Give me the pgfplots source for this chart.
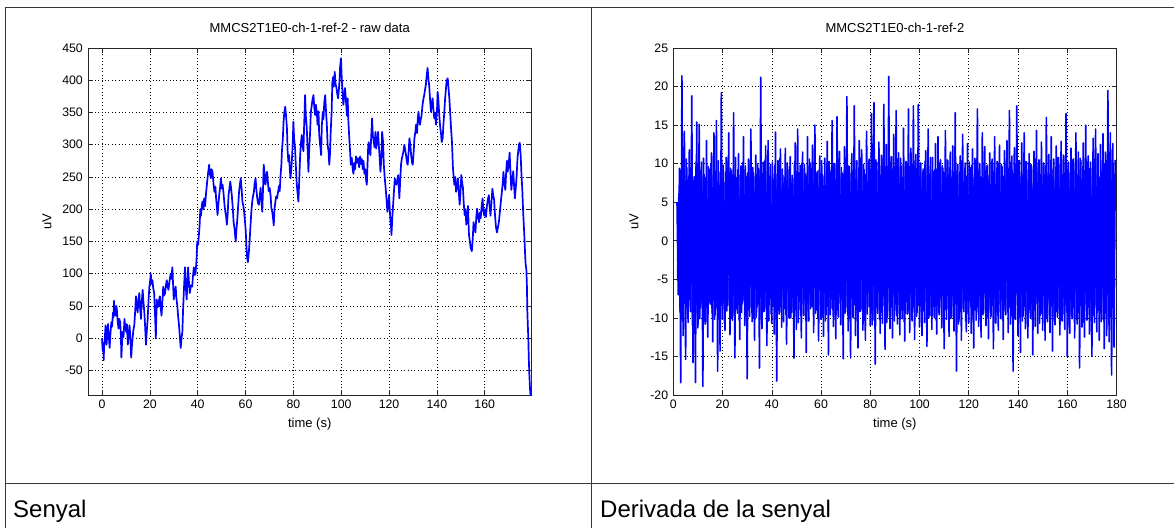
\documentclass[border=0pt]{standalone}
\usepackage{pgfplots}
\pgfplotsset{compat=1.18}
\usepackage{fontspec}
\setmainfont{Liberation Sans}
\definecolor{mblue}{RGB}{0,0,255}
\definecolor{tline}{RGB}{55,55,55}
\pgfplotsset{
  mstyle/.style={
    scale only axis, height=347pt,
    axis line style={black!85, line width=0.7pt},
    tick align=inside, major tick length=5pt,
    tick style={black!85, line width=0.6pt},
    grid=major,
    major grid style={black, line width=0.6pt, dash pattern=on 0.8pt off 2.6pt},
    /pgf/number format/assume math mode=true,
    /pgf/number format/1000 sep={},
    every tick label/.append style={font=\fontsize{12.3}{14}\selectfont},
    xticklabel style={inner sep=0pt, anchor=north, yshift=-5pt},
    yticklabel style={inner sep=0pt, anchor=east, xshift=-5pt},
    title style={at={(0.5,1)}, anchor=base, yshift=9.7pt, inner sep=0pt, font=\fontsize{13}{15}\selectfont},
    label style={font=\fontsize{13}{15}\selectfont},
    xlabel style={at={(axis description cs:0.5,0)}, anchor=base, yshift=-32pt, inner sep=0pt},
  }
}
\begin{document}
\begin{tikzpicture}[x=1pt,y=1pt]
\path[use as bounding box, fill=white] (0pt,0pt) rectangle (1174pt,528pt);
\draw[tline, line width=1pt] (5pt,0pt) -- (5pt,520pt) -- (1174pt,520pt);
\draw[tline, line width=1pt] (591pt,0pt) -- (591pt,520pt);
\draw[tline, line width=1pt] (5pt,45pt) -- (1174pt,45pt);
\node[anchor=base west, inner sep=0pt, font=\fontsize{24}{28}\selectfont] at (13pt,11pt) {Senyal};
\node[anchor=base west, inner sep=0pt, font=\fontsize{24}{28}\selectfont] at (600pt,11pt) {Derivada de la senyal};

\begin{axis}[mstyle, at={(88pt,133pt)}, anchor=south west, width=443.4pt,
  xmin=-5.85, xmax=179.5, ymin=-88, ymax=450,
  xtick={0,20,...,160}, ytick={-50,0,...,450},
  title={MMCS2T1E0-ch-1-ref-2 - raw data},
  xlabel={time (s)}, ylabel={uV},
  ylabel style={at={(axis description cs:-0.0925,0.5)}, anchor=center, inner sep=0pt},
]
\addplot[mblue, line width=1.7pt, line join=round] table {
t v
0.0 0
0.3 -20
0.5 -8
0.7 -34
0.9 -12
1.1 -5
1.3 8
1.5 20
1.7 2
1.9 -10
2.2 5
2.5 22
2.8 5
3.2 -15
3.5 5
3.9 25
4.2 18
4.6 40
4.8 32
5.0 58
5.3 42
5.7 35
6.0 50
6.2 45
6.5 28
6.9 15
7.2 30
7.6 25
7.9 5
8.1 -30
8.4 -5
8.7 10
9.0 2
9.4 30
9.7 18
10.1 10
10.4 22
10.8 -10
11.1 5
11.5 20
11.8 5
12.2 -30
12.5 -12
12.8 0
13.1 12
13.5 20
13.8 38
14.2 65
14.5 52
14.9 40
15.2 58
15.6 70
15.9 48
16.3 30
16.6 55
17.0 75
17.3 58
17.7 40
18.0 20
18.4 -10
18.7 10
19.1 30
19.4 55
19.8 80
20.1 88
20.4 100
20.7 84
21.1 90
21.4 78
21.8 70
22.1 45
22.5 0
22.7 30
22.9 60
23.2 48
23.6 50
23.9 60
24.2 65
24.5 48
24.9 35
25.2 55
25.6 80
25.9 66
26.4 70
26.7 82
27.1 90
27.4 80
27.8 75
28.2 88
28.7 100
29.0 92
29.4 110
29.7 85
30.0 60
30.4 72
30.8 80
31.1 62
31.5 50
31.8 35
32.2 20
32.5 5
32.9 -15
33.2 -2
33.6 10
33.9 45
34.3 80
34.5 95
34.7 110
35.0 80
35.4 60
35.7 88
36.0 110
36.3 90
36.7 70
37.2 82
37.7 80
38.0 95
38.4 110
38.7 98
39.1 100
39.5 120
39.8 150
40.2 145
40.5 160
40.8 175
41.1 200
41.4 190
41.7 205
42.0 212
42.4 200
42.7 217
43.1 205
43.5 225
43.9 240
44.3 255
44.8 269
45.1 255
45.5 248
45.8 262
46.2 258
46.6 240
47.0 227
47.4 235
47.7 217
48.0 205
48.3 191
48.7 210
49.0 222
49.4 235
49.7 248
50.1 232
50.4 238
50.8 225
51.2 207
51.6 195
51.9 188
52.2 176
52.5 190
52.9 222
53.2 230
53.6 243
53.9 235
54.3 220
54.7 200
55.0 181
55.4 170
55.9 150
56.2 168
56.6 186
57.0 210
57.3 227
57.7 240
58.0 248
58.4 230
58.7 212
59.1 205
59.4 196
59.8 180
60.1 165
60.4 140
60.7 124
61.0 118
61.4 134
61.7 150
62.1 176
62.4 195
62.8 212
63.1 220
63.5 227
63.8 240
64.2 248
64.5 232
64.9 217
65.2 210
65.6 207
66.0 222
66.3 233
66.7 210
67.0 196
67.3 230
67.6 269
68.0 255
68.3 238
68.7 248
69.0 258
69.4 240
69.7 228
70.1 233
70.5 220
70.8 202
71.2 195
71.5 186
71.8 175
72.1 200
72.5 212
72.8 220
73.2 217
73.6 227
74.0 236
74.3 228
74.6 250
75.0 270
75.2 289
75.6 310
75.9 336
76.2 350
76.6 359
77.0 342
77.3 326
77.6 290
77.9 274
78.2 284
78.5 262
78.8 248
79.2 265
79.5 284
79.8 310
80.0 336
80.3 310
80.7 295
81.0 270
81.4 240
81.7 227
82.1 212
82.4 240
82.8 280
83.1 300
83.5 315
83.8 300
84.2 290
84.5 330
84.9 377
85.2 345
85.6 326
85.9 298
86.3 258
86.6 290
87.0 320
87.3 350
87.7 362
88.0 370
88.4 377
88.7 360
89.1 346
89.4 362
89.8 350
90.1 331
90.5 352
90.8 315
91.2 300
91.6 284
91.9 330
92.3 351
92.6 340
92.9 365
93.3 377
93.6 355
94.0 330
94.3 300
94.7 290
95.0 269
95.3 285
95.6 320
96.0 352
96.3 398
96.6 405
96.9 390
97.3 413
97.6 395
98.0 388
98.3 380
98.7 372
99.0 385
99.3 400
99.5 419
99.9 434
100.2 405
100.6 380
100.9 362
101.3 377
101.6 388
102.0 368
102.4 345
102.7 372
103.0 336
103.3 315
103.7 290
104.0 269
104.4 280
104.8 262
105.1 255
105.5 272
105.8 262
106.2 282
106.6 272
107.1 279
107.5 265
107.9 282
108.3 270
108.6 278
109.0 262
109.3 275
109.7 255
110.1 262
110.4 245
110.7 238
111.0 270
111.3 300
111.5 304
111.9 290
112.2 284
112.5 310
112.9 341
113.2 315
113.6 305
113.9 296
114.3 320
114.6 294
115.0 305
115.4 320
115.7 300
116.0 284
116.4 258
116.8 280
117.1 320
117.5 304
117.8 270
118.1 253
118.7 227
119.0 212
119.3 196
119.7 210
120.0 222
120.3 200
120.5 186
120.8 175
121.0 160
121.4 190
121.7 207
122.0 225
122.4 248
122.7 240
123.1 238
123.4 245
123.8 253
124.3 217
124.6 240
125.0 269
125.3 278
125.7 284
126.1 292
126.4 300
126.8 290
127.1 284
127.5 272
127.8 269
128.2 290
128.5 310
128.9 300
129.2 285
129.6 272
129.9 269
130.3 290
130.6 310
131.0 320
131.3 331
131.7 318
132.0 340
132.3 351
132.6 338
132.9 331
133.3 340
133.6 346
134.0 362
134.3 370
134.7 377
135.0 385
135.4 393
135.7 406
136.1 419
136.4 405
136.8 390
137.1 372
137.5 351
137.8 362
138.2 372
138.5 356
138.9 341
139.2 350
139.6 331
140.0 350
140.3 382
140.6 370
141.0 345
141.4 326
141.7 318
142.0 304
142.4 310
142.7 330
143.1 351
143.4 370
143.8 388
144.1 400
144.5 403
144.8 390
145.2 372
145.6 346
145.9 326
146.3 304
146.7 264
147.0 250
147.3 238
147.7 250
148.0 227
148.4 234
148.8 248
149.1 230
149.5 207
149.8 222
150.2 253
150.5 242
150.9 233
151.2 210
151.6 191
151.9 200
152.3 176
152.7 190
153.0 205
153.4 160
153.8 150
154.1 140
154.6 135
155.0 155
155.3 180
155.7 172
156.1 164
156.5 190
156.8 201
157.2 188
157.6 180
158.0 195
158.3 186
158.7 205
159.1 217
159.4 198
159.8 190
160.2 200
160.5 188
160.9 205
161.3 215
161.7 222
162.0 205
162.4 190
162.8 210
163.2 232
163.5 222
163.9 215
164.3 190
164.7 172
165.1 164
165.5 172
165.9 180
166.3 195
166.7 211
167.1 225
167.5 240
167.8 258
168.2 240
168.6 230
169.0 262
169.3 275
169.6 258
170.0 270
170.4 288
170.7 262
171.1 230
171.5 245
171.9 259
172.2 240
172.6 217
172.9 230
173.3 250
173.7 280
174.0 290
174.3 300
174.6 303
175.0 285
175.3 258
175.7 230
176.0 200
176.3 177
176.6 155
176.9 127
177.1 115
177.4 106
177.6 85
177.8 43
178.0 20
178.2 1
178.4 -30
178.6 -52
178.8 -70
179.0 -83
179.2 -90
};
\end{axis}

\begin{axis}[mstyle, at={(673.3pt,133pt)}, anchor=south west, width=443.2pt,
  xmin=0, xmax=180, ymin=-20, ymax=25,
  xtick={0,20,...,180}, ytick={-20,-15,...,25},
  title={MMCS2T1E0-ch-1-ref-2},
  xlabel={time (s)}, ylabel={uV},
  ylabel style={at={(axis description cs:-0.0887,0.5)}, anchor=center, inner sep=0pt},
]
\addplot[mblue, line width=1.6pt, line join=round] coordinates {
(1.5,5.0) (2,-7.0) (2.5,9.4) (3,-18.4) (3.5,21.4) (4,-12.3) (4.5,14.2) (5,-15.4) (5.5,9.5) (6,-10.6)
(6.5,11.8) (7,-9.2) (7.5,18.8) (8,-15.8) (8.5,8.3) (9,-18.4) (9.5,15.4) (10,-11.3) (10.5,15.1) (11,-8.7)
(11.5,10.2) (12,-18.9) (12.5,8.6) (13,-10.8) (13.5,13.0) (14,-12.5) (14.5,9.3) (15,-8.2) (15.5,11.4) (16,-13.1)
(16.5,14.0) (17,-9.6) (17.5,15.6) (18,-16.9) (18.5,8.9) (19,-14.3) (19.5,19.2) (20,-10.1) (20.5,7.6) (21,-11.6)
(21.5,10.8) (22,-8.4) (22.5,14.0) (23,-12.2) (23.5,9.1) (24,-10.3) (24.5,16.6) (25,-15.2) (25.5,8.2) (26,-9.4)
(26.5,11.3) (27,-12.8) (27.5,9.7) (28,-8.1) (28.5,13.5) (29,-11.0) (29.5,8.4) (30,-17.9) (30.5,10.6) (31,-9.8)
(31.5,14.5) (32,-10.5) (32.5,8.8) (33,-12.9) (33.5,11.1) (34,-8.6) (34.5,9.4) (35,-16.5) (35.5,21.2) (36,-11.4)
(36.5,10.2) (37,-9.1) (37.5,12.3) (38,-13.6) (38.5,13.0) (39,-8.3) (39.5,9.9) (40,-10.7) (40.5,8.0) (41,-12.1)
(41.5,14.1) (42,-18.2) (42.5,10.4) (43,-9.5) (43.5,11.9) (44,-11.2) (44.5,8.5) (45,-8.8) (45.5,12.0) (46,-13.4)
(46.5,9.2) (47,-10.0) (47.5,10.9) (48,-9.3) (48.5,8.1) (49,-15.2) (49.5,12.7) (50,-11.5) (50.5,14.5) (51,-8.9)
(51.5,9.8) (52,-12.6) (52.5,11.5) (53,-9.7) (53.5,8.7) (54,-14.5) (54.5,13.5) (55,-10.4) (55.5,10.1) (56,-8.5)
(56.5,12.4) (57,-11.9) (57.5,15.0) (58,-9.0) (58.5,9.0) (59,-13.0) (59.5,11.0) (60,-10.2) (60.5,8.6) (61,-12.4)
(61.5,10.7) (62,-9.6) (62.5,12.9) (63,-14.8) (63.5,9.5) (64,-8.7) (64.5,15.6) (65,-11.1) (65.5,10.0) (66,-12.7)
(66.5,16.1) (67,-9.9) (67.5,11.6) (68,-10.9) (68.5,8.8) (69,-15.3) (69.5,12.2) (70,-9.2) (70.5,18.7) (71,-11.7)
(71.5,9.6) (72,-15.2) (72.5,11.3) (73,-10.0) (73.5,17.5) (74,-12.3) (74.5,10.4) (75,-13.9) (75.5,13.0) (76,-9.1)
(76.5,11.8) (77,-11.6) (77.5,9.2) (78,-12.9) (78.5,14.2) (79,-8.6) (79.5,10.6) (80,-11.0) (80.5,16.5) (81,-10.3)
(81.5,17.9) (82,-16.0) (82.5,10.2) (83,-9.4) (83.5,12.8) (84,-12.0) (84.5,11.1) (85,-10.7) (85.5,17.7) (86,-14.1)
(86.5,12.5) (87,-9.8) (87.5,21.3) (88,-11.4) (88.5,10.9) (89,-12.6) (89.5,13.8) (90,-9.0) (90.5,16.9) (91,-10.8)
(91.5,11.4) (92,-12.2) (92.5,9.7) (93,-10.1) (93.5,14.6) (94,-13.0) (94.5,10.3) (95,-9.5) (95.5,17.1) (96,-11.9)
(96.5,12.0) (97,-10.4) (97.5,17.5) (98,-12.8) (98.5,11.2) (99,-9.3) (99.5,17.7) (100,-11.2) (100.5,10.1) (101,-12.3)
(101.5,9.3) (102,-10.6) (102.5,11.7) (103,-13.7) (103.5,14.5) (104,-9.7) (104.5,10.8) (105,-11.5) (105.5,9.0) (106,-10.0)
(106.5,12.6) (107,-12.1) (107.5,13.5) (108,-9.6) (108.5,10.5) (109,-11.3) (109.5,9.4) (110,-14.0) (110.5,14.3) (111,-10.2)
(111.5,10.4) (112,-12.4) (112.5,11.5) (113,-9.9) (113.5,12.3) (114,-11.7) (114.5,16.6) (115,-16.9) (115.5,9.9) (116,-10.5)
(116.5,11.0) (117,-12.9) (117.5,13.8) (118,-9.2) (118.5,10.1) (119,-11.8) (119.5,12.6) (120,-10.6) (120.5,9.5) (121,-12.0)
(121.5,11.9) (122,-13.9) (122.5,10.7) (123,-10.3) (123.5,17.1) (124,-11.1) (124.5,10.0) (125,-12.5) (125.5,14.0) (126,-9.4)
(126.5,12.2) (127,-11.0) (127.5,9.8) (128,-12.7) (128.5,11.4) (129,-9.9) (129.5,10.6) (130,-14.0) (130.5,13.5) (131,-10.7)
(131.5,10.3) (132,-11.6) (132.5,12.4) (133,-10.1) (133.5,9.6) (134,-12.8) (134.5,11.7) (135,-9.6) (135.5,13.0) (136,-11.9)
(136.5,16.9) (137,-10.8) (137.5,11.0) (138,-16.9) (138.5,12.1) (139,-10.2) (139.5,17.5) (140,-12.3) (140.5,10.4) (141,-14.5)
(141.5,12.7) (142,-9.8) (142.5,14.0) (143,-11.4) (143.5,10.2) (144,-12.6) (144.5,11.3) (145,-10.0) (145.5,9.7) (146,-14.8)
(146.5,11.6) (147,-11.1) (147.5,14.3) (148,-12.0) (148.5,10.5) (149,-9.7) (149.5,12.8) (150,-11.6) (150.5,9.9) (151,-12.9)
(151.5,16.0) (152,-10.5) (152.5,11.2) (153,-11.9) (153.5,13.5) (154,-14.3) (154.5,10.6) (155,-10.9) (155.5,12.3) (156,-9.9)
(156.5,10.8) (157,-12.2) (157.5,12.9) (158,-10.4) (158.5,11.1) (159,-11.5) (159.5,16.5) (160,-15.0) (160.5,10.2) (161,-12.0)
(161.5,12.0) (162,-10.1) (162.5,10.6) (163,-12.6) (163.5,14.0) (164,-10.8) (164.5,11.5) (165,-16.5) (165.5,10.4) (166,-11.2)
(166.5,12.7) (167,-12.5) (167.5,15.0) (168,-10.3) (168.5,11.0) (169,-12.1) (169.5,10.2) (170,-15.0) (170.5,13.3) (171,-10.6)
(171.5,14.5) (172,-11.8) (172.5,11.3) (173,-12.9) (173.5,12.5) (174,-10.2) (174.5,13.9) (175,-14.0) (175.5,11.5) (176,-12.3)
(176.5,19.5) (177,-13.1) (177.5,14.0) (178,-17.4) (178.5,12.6) (179,-13.8) (179.5,10.5)
};
\addplot[mblue, line width=1.6pt, line join=round] coordinates {
(1.75,-4.8) (2.25,6.1) (2.75,-9.2) (3.25,8.7) (3.75,-10.4) (4.25,9.9) (4.75,-8.1) (5.25,10.6) (5.75,-9.5) (6.25,8.4)
(6.75,-7.6) (7.25,9.3) (7.75,-10.9) (8.25,7.8) (8.75,-8.9) (9.25,10.2) (9.75,-9.6) (10.25,8.0) (10.75,-10.1) (11.25,9.1)
(11.75,-8.3) (12.25,10.7) (12.75,-9.0) (13.25,8.2) (13.75,-10.5) (14.25,9.6) (14.75,-7.9) (15.25,10.0) (15.75,-9.4) (16.25,8.6)
(16.75,-10.2) (17.25,9.0) (17.75,-8.6) (18.25,10.4) (18.75,-9.8) (19.25,7.7) (19.75,-8.4) (20.25,9.8) (20.75,-10.6) (21.25,8.9)
(21.75,-9.1) (22.25,10.3) (22.75,-8.0) (23.25,9.4) (23.75,-10.0) (24.25,8.1) (24.75,-9.7) (25.25,10.8) (25.75,-8.5) (26.25,9.2)
(26.75,-10.3) (27.25,8.5) (27.75,-9.3) (28.25,10.1) (28.75,-7.8) (29.25,9.7) (29.75,-10.7) (30.25,8.8) (30.75,-9.0) (31.25,10.5)
(31.75,-8.7) (32.25,9.5) (32.75,-10.1) (33.25,8.3) (33.75,-9.9) (34.25,10.0) (34.75,-8.2) (35.25,9.1) (35.75,-10.8) (36.25,8.7)
(36.75,-9.2) (37.25,10.4) (37.75,-8.8) (38.25,9.0) (38.75,-10.4) (39.25,8.4) (39.75,-9.5) (40.25,10.2) (40.75,-8.1) (41.25,9.8)
(41.75,-10.2) (42.25,8.6) (42.75,-9.0) (43.25,10.7) (43.75,-8.6) (44.25,9.3) (44.75,-10.5) (45.25,8.2) (45.75,-9.6) (46.25,10.1)
(46.75,-8.9) (47.25,9.6) (47.75,-10.0) (48.25,8.5) (48.75,-9.3) (49.25,10.3) (49.75,-8.4) (50.25,9.0) (50.75,-10.6) (51.25,8.8)
(51.75,-9.7) (52.25,10.1) (52.75,-8.2) (53.25,9.9) (53.75,-10.3) (54.25,8.4) (54.75,-9.1) (55.25,10.6) (55.75,-8.8) (56.25,9.4)
(56.75,-8.6) (57.25,10.2) (57.75,-9.4) (58.25,8.7) (58.75,-10.1) (59.25,9.2) (59.75,-8.3) (60.25,10.4) (60.75,-9.9) (61.25,8.3)
(61.75,-10.4) (62.25,9.1) (62.75,-8.5) (63.25,10.3) (63.75,-9.6) (64.25,8.0) (64.75,-8.9) (65.25,9.9) (65.75,-10.2) (66.25,9.3)
(66.75,-9.0) (67.25,10.6) (67.75,-8.1) (68.25,9.5) (68.75,-10.7) (69.25,8.6) (69.75,-9.4) (70.25,10.1) (70.75,-8.7) (71.25,9.7)
(71.75,-10.1) (72.25,8.8) (72.75,-9.6) (73.25,10.4) (73.75,-8.3) (74.25,9.2) (74.75,-10.5) (75.25,8.4) (75.75,-9.2) (76.25,10.8)
(76.75,-8.8) (77.25,9.9) (77.75,-10.3) (78.25,8.6) (78.75,-9.5) (79.25,10.0) (79.75,-8.5) (80.25,9.3) (80.75,-10.9) (81.25,8.9)
(81.75,-9.8) (82.25,10.5) (82.75,-8.7) (83.25,9.1) (83.75,-10.2) (84.25,8.5) (84.75,-9.3) (85.25,10.7) (85.75,-8.4) (86.25,9.6)
(86.75,-10.6) (87.25,8.9) (87.75,-9.1) (88.25,10.2) (88.75,-8.6) (89.25,9.4) (89.75,-10.4) (90.25,8.3) (90.75,-9.7) (91.25,10.6)
(91.75,-8.3) (92.25,10.7) (92.75,-9.0) (93.25,8.2) (93.75,-10.5) (94.25,9.6) (94.75,-7.9) (95.25,10.0) (95.75,-9.4) (96.25,8.6)
(96.75,-10.2) (97.25,9.0) (97.75,-8.6) (98.25,10.4) (98.75,-9.8) (99.25,7.7) (99.75,-8.4) (100.25,9.8) (100.75,-10.6) (101.25,8.9)
(101.75,-9.1) (102.25,10.3) (102.75,-8.0) (103.25,9.4) (103.75,-10.0) (104.25,8.1) (104.75,-9.7) (105.25,10.8) (105.75,-8.5) (106.25,9.2)
(106.75,-10.3) (107.25,8.5) (107.75,-9.3) (108.25,10.1) (108.75,-7.8) (109.25,9.7) (109.75,-10.7) (110.25,8.8) (110.75,-9.0) (111.25,10.5)
(111.75,-8.7) (112.25,9.5) (112.75,-10.1) (113.25,8.3) (113.75,-9.9) (114.25,10.0) (114.75,-8.2) (115.25,9.1) (115.75,-10.8) (116.25,8.7)
(116.75,-9.2) (117.25,10.4) (117.75,-8.8) (118.25,9.0) (118.75,-10.4) (119.25,8.4) (119.75,-9.5) (120.25,10.2) (120.75,-8.1) (121.25,9.8)
(121.75,-10.2) (122.25,8.6) (122.75,-9.0) (123.25,10.7) (123.75,-8.6) (124.25,9.3) (124.75,-10.5) (125.25,8.2) (125.75,-9.6) (126.25,10.1)
(126.75,-8.9) (127.25,9.6) (127.75,-10.0) (128.25,8.5) (128.75,-9.3) (129.25,10.3) (129.75,-8.4) (130.25,9.0) (130.75,-10.6) (131.25,8.8)
(131.75,-9.7) (132.25,10.1) (132.75,-8.2) (133.25,9.9) (133.75,-10.3) (134.25,8.4) (134.75,-9.1) (135.25,10.6) (135.75,-8.8) (136.25,9.4)
(136.75,-8.6) (137.25,10.2) (137.75,-9.4) (138.25,8.7) (138.75,-10.1) (139.25,9.2) (139.75,-8.3) (140.25,10.4) (140.75,-9.9) (141.25,8.3)
(141.75,-10.4) (142.25,9.1) (142.75,-8.5) (143.25,10.3) (143.75,-9.6) (144.25,8.0) (144.75,-8.9) (145.25,9.9) (145.75,-10.2) (146.25,9.3)
(146.75,-9.0) (147.25,10.6) (147.75,-8.1) (148.25,9.5) (148.75,-10.7) (149.25,8.6) (149.75,-9.4) (150.25,10.1) (150.75,-8.7) (151.25,9.7)
(151.75,-10.1) (152.25,8.8) (152.75,-9.6) (153.25,10.4) (153.75,-8.3) (154.25,9.2) (154.75,-10.5) (155.25,8.4) (155.75,-9.2) (156.25,10.8)
(156.75,-8.8) (157.25,9.9) (157.75,-10.3) (158.25,8.6) (158.75,-9.5) (159.25,10.0) (159.75,-8.5) (160.25,9.3) (160.75,-10.9) (161.25,8.9)
(161.75,-9.8) (162.25,10.5) (162.75,-8.7) (163.25,9.1) (163.75,-10.2) (164.25,8.5) (164.75,-9.3) (165.25,10.7) (165.75,-8.4) (166.25,9.6)
(166.75,-10.6) (167.25,8.9) (167.75,-9.1) (168.25,10.2) (168.75,-8.6) (169.25,9.4) (169.75,-10.4) (170.25,8.3) (170.75,-9.7) (171.25,10.6)
(171.75,-8.3) (172.25,10.7) (172.75,-9.0) (173.25,8.2) (173.75,-10.5) (174.25,9.6) (174.75,-7.9) (175.25,10.0) (175.75,-9.4) (176.25,8.6)
(176.75,-10.2) (177.25,9.0) (177.75,-8.6) (178.25,10.4) (178.75,-9.8) (179.25,8.7)
};
\end{axis}
\end{tikzpicture}
\end{document}
